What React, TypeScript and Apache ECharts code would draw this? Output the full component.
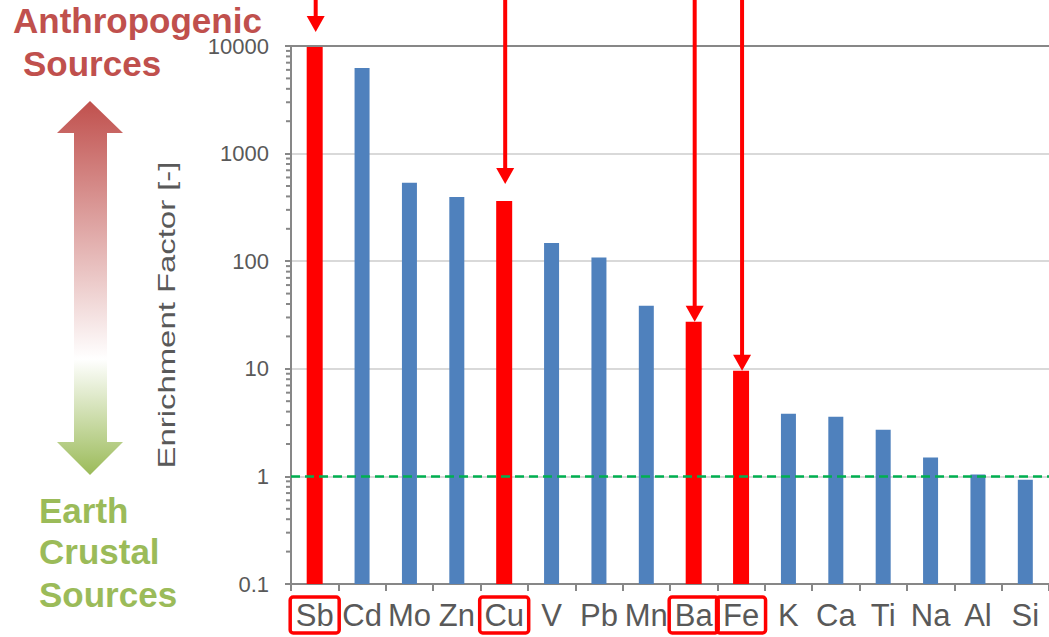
import React, { useEffect, useRef } from "react";
import * as echarts from "echarts";

const categories = ["Sb", "Cd", "Mo", "Zn", "Cu", "V", "Pb", "Mn", "Ba", "Fe", "K", "Ca", "Ti", "Na", "Al", "Si"];
const enrichmentFactors = [10000, 6250, 535, 396, 363, 148, 108, 38.5, 27.4, 9.6, 3.83, 3.59, 2.72, 1.5, 1.04, 0.93];
const highlighted = ["Sb", "Cu", "Ba", "Fe"];
const crustalThreshold = 1;
const yMin = 0.1;
const yMax = 10000;
const minorTickMultipliers = [2, 3, 4, 5, 6, 7, 8, 9];
const arrowTipGaps = [14, 17, 0, 0];

const GRID = { left: 291, right: -5, top: 46, bottom: 53 };
const FONT = "'Liberation Sans', Arial, sans-serif";
const GRAY = "#595959";
const AXIS = "#878787";
const RED = "#FF0000";
const BLUE = "#4F81BD";

export default function App() {
  const ref = useRef<HTMLDivElement>(null);
  useEffect(() => {
    if (!ref.current) return;
    const chart = echarts.init(ref.current, undefined, { renderer: "svg" });
    const option: any = {
      animation: false,
      grid: { ...GRID, containLabel: false },
      xAxis: {
        type: "category",
        data: categories,
        boundaryGap: true,
        axisLine: { show: true, lineStyle: { color: AXIS, width: 2 } },
        axisTick: { show: true, interval: 0, length: 7, lineStyle: { color: AXIS, width: 2 } },
        axisLabel: {
          interval: 0,
          margin: 15,
          formatter: (v: string) => (highlighted.includes(v) ? `{box|${v}}` : `{plain|${v}}`),
          rich: {
            plain: { fontSize: 31, fontFamily: FONT, color: GRAY, height: 32, lineHeight: 32, padding: [2, 0] },
            box: {
              fontSize: 31, fontFamily: FONT, color: GRAY, height: 32, lineHeight: 32, width: 45, align: "center",
              padding: [2, 2], borderColor: RED, borderWidth: 3.5, borderRadius: 3,
            },
          },
        },
        splitLine: { show: false },
      },
      yAxis: {
        type: "log",
        logBase: 10,
        min: yMin,
        max: yMax,
        axisLine: { show: true, lineStyle: { color: AXIS, width: 2 } },
        axisTick: { show: true, length: 6, lineStyle: { color: AXIS, width: 2 } },
        splitLine: { show: true, lineStyle: { color: "#D9D9D9", width: 2 } },
        axisLabel: {
          margin: 22,
          fontSize: 22,
          fontFamily: FONT,
          color: GRAY,
          formatter: (v: number) => String(Number(v.toPrecision(6))),
        },
      },
      series: [
        {
          type: "line",
          data: [],
          z: 1,
          markLine: {
            silent: true,
            symbol: "none",
            label: { show: false },
            lineStyle: { color: "#00B050", type: [9, 5], width: 2.5 },
            data: [{ yAxis: crustalThreshold }],
          },
        },
        {
          type: "custom",
          z: 3,
          data: enrichmentFactors.map((v, i) => [i, v, highlighted.includes(categories[i]) ? 1 : 0]),
          encode: { x: 0, y: 1 },
          renderItem: (params: any, api: any) => {
            const i = api.value(0);
            const v = api.value(1);
            const hi = api.value(2) === 1;
            const top = api.coord([i, v]);
            const base = api.coord([i, yMin]);
            const w = hi ? 16 : 15;
            return {
              type: "rect",
              shape: { x: top[0] - w / 2, y: top[1], width: w, height: base[1] - top[1] },
              style: { fill: hi ? RED : BLUE },
            };
          },
        },
      ],
    };
    chart.setOption(option);

    const gx = GRID.left;
    const graphics: any[] = [];
    graphics.push({
      type: "polygon",
      shape: {
        points: [
          [90, 101], [123, 133], [107, 133], [107, 442], [123, 442],
          [90, 475], [57, 442], [74, 442], [74, 133], [57, 133],
        ],
      },
      style: {
        fill: new echarts.graphic.LinearGradient(0, 0, 0, 1, [
          { offset: 0, color: "#C0504D" },
          { offset: 0.69, color: "#FFFFFF" },
          { offset: 1, color: "#9BBB59" },
        ]),
      },
    });
    const redText = { fontSize: 35, fontWeight: "bold", fontFamily: FONT, fill: "#C0504D" };
    graphics.push({ type: "text", x: 13, y: 20, style: { ...redText, text: "Anthropogenic", align: "left", verticalAlign: "middle" } });
    graphics.push({ type: "text", x: 23, y: 63, style: { ...redText, text: "Sources", align: "left", verticalAlign: "middle" } });
    const greenText = { fontSize: 35, fontWeight: "bold", fontFamily: FONT, fill: "#9BBB59" };
    graphics.push({ type: "text", x: 39, y: 510, style: { ...greenText, text: "Earth", align: "left", verticalAlign: "middle" } });
    graphics.push({ type: "text", x: 39, y: 551, style: { ...greenText, text: "Crustal", align: "left", verticalAlign: "middle" } });
    graphics.push({ type: "text", x: 39, y: 594, style: { ...greenText, text: "Sources", align: "left", verticalAlign: "middle" } });
    graphics.push({
      type: "text",
      x: 167,
      y: 315,
      rotation: Math.PI / 2,
      scaleX: 1.43,
      style: { text: "Enrichment Factor [-]", fontSize: 23, fontFamily: FONT, fill: GRAY, align: "center", verticalAlign: "middle" },
    });
    for (let d = -1; d < 4; d++) {
      for (const m of minorTickMultipliers) {
        const val = m * Math.pow(10, d);
        const y = chart.convertToPixel({ yAxisIndex: 0 }, val) as number;
        graphics.push({ type: "line", shape: { x1: gx - 5, y1: y, x2: gx, y2: y }, style: { stroke: AXIS, lineWidth: 2 } });
      }
    }
    const yTop = chart.convertToPixel({ yAxisIndex: 0 }, yMax) as number;
    graphics.push({ type: "line", z: 5, shape: { x1: gx - 6, y1: yTop, x2: 1049, y2: yTop }, style: { stroke: AXIS, lineWidth: 2 } });
    highlighted.forEach((cat, k) => {
      const idx = categories.indexOf(cat);
      const x = (chart.convertToPixel({ xAxisIndex: 0 }, cat) as number) + 1;
      const barTop = chart.convertToPixel({ yAxisIndex: 0 }, enrichmentFactors[idx]) as number;
      const tip = barTop - arrowTipGaps[k];
      graphics.push({ type: "line", z: 10, shape: { x1: x, y1: 0, x2: x, y2: tip - 12 }, style: { stroke: RED, lineWidth: 4 } });
      graphics.push({
        type: "polygon",
        z: 10,
        shape: { points: [[x - 9, tip - 16], [x + 9, tip - 16], [x, tip]] },
        style: { fill: RED },
      });
    });
    chart.setOption({ graphic: graphics });
    return () => chart.dispose();
  }, []);
  return <div ref={ref} style={{ position: "absolute", left: 0, top: 0, width: 1049, height: 637 }} />;
}
